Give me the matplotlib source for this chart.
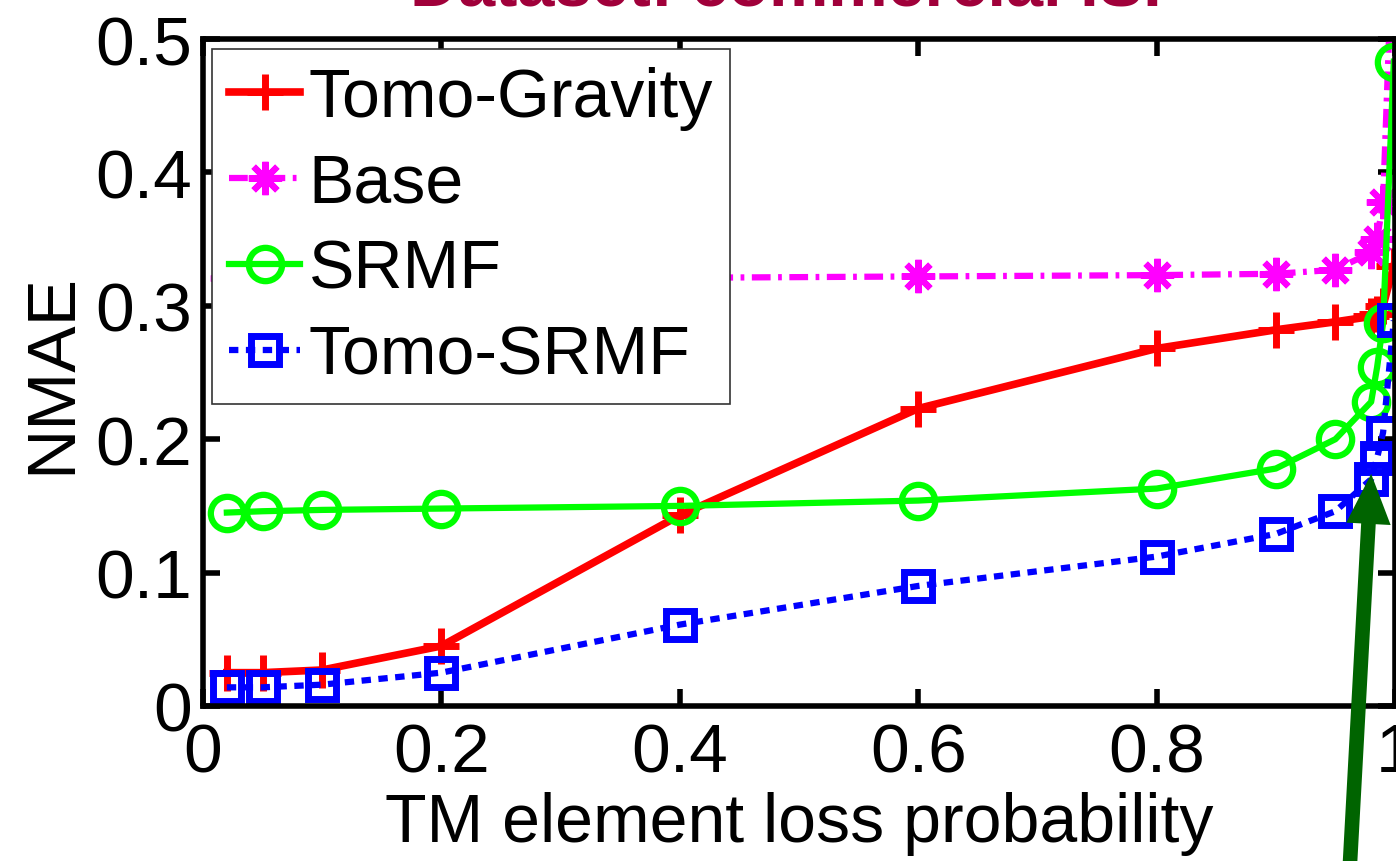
import numpy as np
import matplotlib
matplotlib.use('Agg')
import matplotlib.pyplot as plt
from matplotlib.ticker import FormatStrFormatter

plt.rcParams['font.family'] = ['Liberation Sans', 'DejaVu Sans']

# loss probability
loss_prob = [0.02, 0.05, 0.1, 0.2, 0.4, 0.6, 0.8, 0.9, 0.95, 0.98, 0.985, 0.99, 0.999]

tomo_gravity = [0.025, 0.025, 0.027, 0.045, 0.143, 0.223, 0.268, 0.282, 0.288, 0.292, 0.294, 0.300, 0.330]
base = [0.321, 0.321, 0.321, 0.321, 0.321, 0.322, 0.323, 0.324, 0.327, 0.340, 0.350, 0.378, 0.600]
srmf = [0.145, 0.146, 0.147, 0.148, 0.150, 0.154, 0.163, 0.178, 0.200, 0.228, 0.254, 0.287, 0.483]
tomo_srmf = [0.014, 0.014, 0.016, 0.025, 0.061, 0.090, 0.112, 0.129, 0.146, 0.170, 0.186, 0.205, 0.289]

star = (8, 2, 0)  # matlab style asterisk

fig = plt.figure(figsize=(13.96, 8.62), dpi=100)
ax = fig.add_axes([203/1396, 155/862, 1192/1396, 667/862])

ax.plot(loss_prob, tomo_gravity, color='#ff0000', ls='-', lw=5.5, marker='+', ms=26, mew=5, label='Tomo-Gravity')
ax.plot(loss_prob, base, color='#ff00ff', ls=(0, (3, 1.2, 0.6, 1.2)), lw=4.5, marker=star, ms=24, mew=4.5, label='Base')
ax.plot(loss_prob, srmf, color='#00ff00', ls='-', lw=4.5, marker='o', ms=24, mew=4.5, mfc='none', label='SRMF')
ax.plot(loss_prob, tomo_srmf, color='#0000ff', ls=(0, (1.5, 1.2)), lw=4.5, marker='s', ms=20, mew=5, mfc='none', label='Tomo-SRMF')

ax.set_xlim(0, 1)
ax.set_ylim(0, 0.5)
ax.set_xticks([0, 0.2, 0.4, 0.6, 0.8, 1])
ax.set_yticks([0, 0.1, 0.2, 0.3, 0.4, 0.5])
ax.xaxis.set_major_formatter(FormatStrFormatter('%g'))
ax.yaxis.set_major_formatter(FormatStrFormatter('%g'))
ax.tick_params(direction='in', length=12, width=4, labelsize=50, top=True, right=True, pad=8)
ax.tick_params(axis='x', pad=11)
for s in ax.spines.values():
    s.set_linewidth(4)

ax.set_xlabel('TM element loss probability', fontsize=49, labelpad=4)
ax.set_ylabel('NMAE', fontsize=50, labelpad=8)
ax.set_title('Dataset: commercial ISP', fontsize=48, fontweight='bold', color='#a0003a', pad=25)

leg = ax.legend(loc='upper left', bbox_to_anchor=(0.0075, 0.985), borderaxespad=0, fontsize=49,
                handlelength=1.05, handletextpad=0.12, labelspacing=0.32, borderpad=0.25,
                fancybox=False, framealpha=1, edgecolor='#333333')
leg.get_frame().set_linewidth(1.2)

# green arrow pointing at the Tomo-SRMF point
ax.annotate('', xy=(loss_prob[9], tomo_srmf[9] + 0.004), xytext=(1349, -20), textcoords='figure pixels',
            arrowprops=dict(width=10.5, headwidth=32, headlength=36, shrink=0, color='#006400', lw=0),
            annotation_clip=False)

fig.savefig('out.png', dpi=100)
